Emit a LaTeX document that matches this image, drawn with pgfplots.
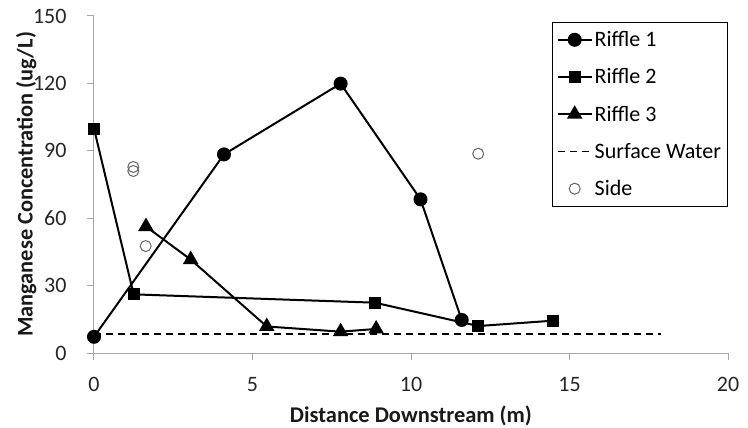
\documentclass[border=0pt]{standalone}
\usepackage{fontspec}
\setmainfont{Carlito}
\usepackage{graphicx}
\usepackage{pgfplots}
\pgfplotsset{compat=1.18}
\pgfplotsset{sidelegend/.style={legend image code/.code={\draw[##1] plot coordinates {(17bp,0bp)};}}}
\begin{document}
\begin{tikzpicture}
\path[use as bounding box] (-94bp,-75bp) rectangle (654bp,353bp);
\begin{axis}[
  at={(0,0)}, anchor=south west,
  scale only axis, width=634bp, height=337bp,
  xmin=0, xmax=20, ymin=0, ymax=150,
  xtick={0,5,...,20}, ytick={0,30,...,150},
  axis x line=bottom, axis y line=left,
  axis line style={-, draw=black!35, line width=1bp},
  tick align=outside, major tick length=7bp,
  tick style={black!35, line width=1bp},
  /pgf/number format/assume math mode=true,
  xticklabel style={font=\fontsize{22bp}{26bp}\selectfont, text=black!85, yshift=-14bp},
  yticklabel style={font=\fontsize{22bp}{26bp}\selectfont, text=black!85, xshift=-17bp},
  xlabel={\resizebox{242bp}{!}{\bfseries Distance Downstream (m)}},
  ylabel={\resizebox{305bp}{!}{\bfseries Manganese Concentration (ug/L)}},
  every axis x label/.style={at={(axis description cs:0.5,-0.186)}, anchor=center,
    font=\fontsize{22bp}{26bp}\selectfont, text=black!90},
  every axis y label/.style={at={(axis description cs:-0.107,0.5)}, rotate=90, anchor=center,
    font=\fontsize{22bp}{26bp}\selectfont, text=black!90},
  legend style={at={(axis description cs:0.999,0.982)}, anchor=north east,
    draw=black, line width=0.8bp, font=\fontsize{22bp}{26bp}\selectfont,
    row sep=16.6bp, inner xsep=4bp, inner ysep=7bp},
  legend cell align=left,
  legend image code/.code={\draw[mark repeat=2,mark phase=2,#1] plot coordinates {(0bp,0bp)(17bp,0bp)(34bp,0bp)};},
  clip=false,
]
\addplot[black, line width=2bp, mark=*, mark size=6bp] coordinates {
  (0,7.2) (4.1,88.4) (7.78,119.9) (10.3,68.4) (11.6,14.7)};
\addlegendentry{Riffle 1}
\addplot[black, line width=2bp, mark=square*, mark size=5bp] coordinates {
  (0,99.9) (1.25,26.1) (8.86,22.4) (12.12,12.0) (14.49,14.4)};
\addlegendentry{Riffle 2}
\addplot[black, line width=2bp, mark=triangle*, mark size=7bp] coordinates {
  (1.64,56.3) (3.05,41.6) (5.45,11.8) (7.78,9.5) (8.9,10.7)};
\addlegendentry{Riffle 3}
\addplot[black, line width=1.5bp, dash pattern=on 7bp off 5bp] coordinates {
  (0,8.4) (17.9,8.4)};
\addlegendentry{Surface Water}
\addplot[only marks, mark=o, mark size=5.5bp, mark options={draw=black!60, fill=white, line width=1bp},
  sidelegend] coordinates {
  (1.24,82.8) (1.24,81.0) (1.63,47.6) (12.12,88.7)};
\addlegendentry{Side}
\end{axis}
\end{tikzpicture}
\end{document}
